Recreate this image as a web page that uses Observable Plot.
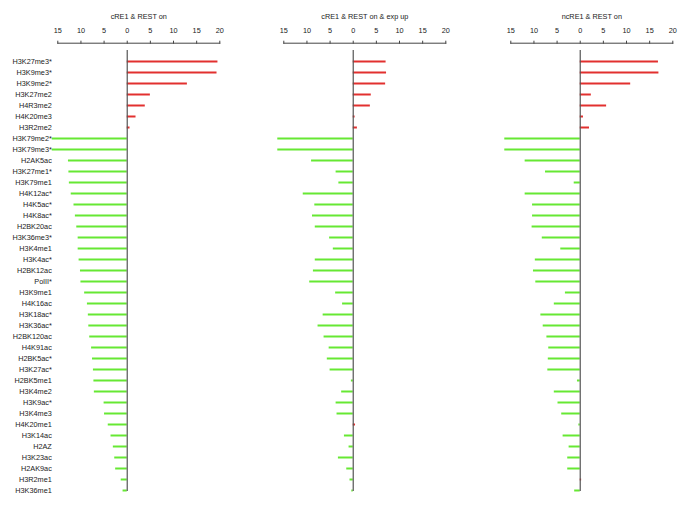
<!DOCTYPE html>
<html>
<head>
<meta charset="utf-8">
<script src="https://cdn.jsdelivr.net/npm/d3@7"></script>
<script src="https://cdn.jsdelivr.net/npm/@observablehq/plot@0.6"></script>
<style>
  html, body { margin: 0; padding: 0; background: #fff; }
  #wrap { position: relative; width: 685px; height: 517px; overflow: hidden; }
  #wrap svg { position: absolute; top: 0; background: transparent !important; }
</style>
</head>
<body>
<div id="wrap"></div>
<script>
const marks = ["H3K27me3*","H3K9me3*","H3K9me2*","H3K27me2","H4R3me2","H4K20me3","H3R2me2",
  "H3K79me2*","H3K79me3*","H2AK5ac","H3K27me1*","H3K79me1","H4K12ac*","H4K5ac*","H4K8ac*",
  "H2BK20ac","H3K36me3*","H3K4me1","H3K4ac*","H2BK12ac","PolII*","H3K9me1","H4K16ac",
  "H3K18ac*","H3K36ac*","H2BK120ac","H4K91ac","H2BK5ac*","H3K27ac*","H2BK5me1","H3K4me2",
  "H3K9ac*","H3K4me3","H4K20me1","H3K14ac","H2AZ","H3K23ac","H2AK9ac","H3R2me1","H3K36me1"];

const panelTitles = ["cRE1 & REST on", "cRE1 & REST on & exp up", "ncRE1 & REST on"];

const cre1On = [19.6,19.4,13.0,5.0,3.9,1.9,0.6,
  -16.2,-16.2,-12.7,-12.6,-12.5,-12.1,-11.5,-11.2,
  -10.9,-10.6,-10.6,-10.4,-10.1,-10.0,-9.2,-8.6,
  -8.4,-8.3,-8.1,-7.7,-7.5,-7.3,-7.2,-7.1,
  -5.0,-4.9,-4.1,-3.5,-3.0,-2.7,-2.5,-1.3,-0.9];

const cre1OnExpUp = [7.1,7.2,7.0,3.9,3.7,0.4,0.9,
  -16.3,-16.3,-9.0,-3.7,-3.1,-10.8,-8.3,-8.8,
  -8.2,-5.1,-4.3,-8.2,-8.6,-9.4,-3.8,-2.3,
  -6.5,-7.6,-6.3,-5.2,-5.6,-5.0,-0.4,-2.5,
  -3.7,-3.5,0.5,-1.9,-0.9,-3.2,-1.4,-0.7,-0.3];

const ncre1On = [16.9,17.0,10.9,2.4,5.7,0.7,2.0,
  -16.3,-16.3,-11.9,-7.5,-1.3,-11.9,-10.3,-10.3,
  -10.4,-8.2,-4.2,-9.7,-10.1,-9.6,-3.2,-5.6,
  -8.5,-8.0,-7.2,-6.8,-6.9,-7.0,-0.6,-5.6,
  -4.8,-4.0,-0.3,-3.7,-2.4,-2.7,-2.7,0.3,-1.2];

const xTicks = [-15,-10,-5,0,5,10,15,20];

const series = [cre1On, cre1OnExpUp, ncre1On];
const offsets = [0, 226.35, 452.7];
const red = "#e2302f";
const green = "#66e833";
const font = "'Liberation Sans', Arial, Helvetica, sans-serif";

series.forEach((vals, i) => {
  const data = marks.map((m, j) => ({mark: m, value: vals[j]}));
  const zeroLine = [{x: 0, y1: marks[0], y2: marks[marks.length - 1]}];
  const chart = Plot.plot({
    width: 230,
    height: 517,
    marginLeft: 57.3,
    marginRight: 10.7,
    marginTop: 42.7,
    marginBottom: 20,
    style: {fontFamily: font, fontSize: "7.3px", color: "#222", background: "transparent"},
    x: {domain: [-15, 20], ticks: xTicks, tickFormat: d => Math.abs(d)},
    y: {type: "point", domain: marks, range: [60, 491.3], padding: 0},
    marks: [
      Plot.axisX({anchor: "top", ticks: xTicks, tickFormat: d => Math.abs(d), tickSize: 3, tickPadding: 7, label: null, stroke: "#444"}),
      i === 0 ? Plot.axisY({tickSize: 0, tickPadding: 6, label: null}) : Plot.axisY({ticks: [], label: null}),
      Plot.frame({anchor: "top", stroke: "#444"}),
      Plot.text([panelTitles[i]], {frameAnchor: "top", dy: -29.4, fontSize: 7.3, fill: "#222"}),
      Plot.ruleY(data, {y: "mark", x1: 0, x2: "value", stroke: d => d.value > 0 ? red : green, strokeWidth: 2}),
      Plot.ruleX(zeroLine, {x: "x", y1: "y1", y2: "y2", insetTop: -11, insetBottom: -1, stroke: "#555", strokeWidth: 1.2})
    ]
  });
  chart.style.left = offsets[i] + "px";
  document.getElementById("wrap").appendChild(chart);
});
</script>
</body>
</html>
